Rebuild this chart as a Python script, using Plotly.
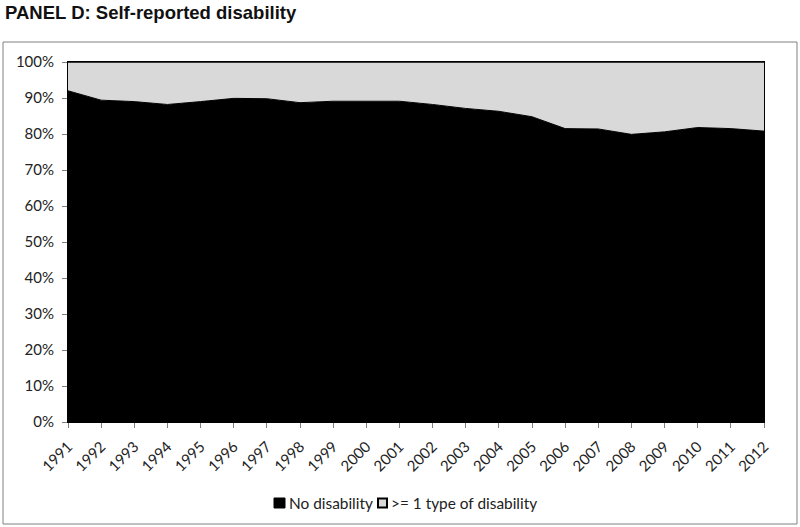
import plotly.graph_objects as go

years = list(range(1991, 2013))
no_disability = [92.0, 89.4, 89.0, 88.2, 89.0, 89.9, 89.8, 88.7, 89.1, 89.1, 89.1,
                 88.2, 87.1, 86.3, 84.8, 81.5, 81.4, 79.9, 80.6, 81.8, 81.5, 80.8]
with_disability = [round(100 - v, 1) for v in no_disability]
y_ticks = [0, 10, 20, 30, 40, 50, 60, 70, 80, 90, 100]
y_tick_labels = [f"{v}%" for v in y_ticks]
series_names = ["No disability", ">= 1 type of disability"]

fig = go.Figure()
fig.add_trace(go.Scatter(x=years, y=no_disability, stackgroup="one", mode="lines",
                         line=dict(color="black", width=1), fillcolor="black",
                         name=series_names[0], showlegend=False, hoverinfo="x+y"))
fig.add_trace(go.Scatter(x=years, y=with_disability, stackgroup="one", mode="lines",
                         line=dict(color="black", width=1.5), fillcolor="#d9d9d9",
                         name=series_names[1], showlegend=False, hoverinfo="x+y"))

W, H = 800, 527
L, R, T, B = 68, 764, 62, 422
pw, ph = R - L, B - T

def px_x(p):
    return (p - L) / pw

def px_y(p):
    return (B - p) / ph

leg_y = 503
shapes = [
    dict(type="rect", xref="paper", yref="paper",
         x0=px_x(3), x1=px_x(797), y0=px_y(524), y1=px_y(42),
         line=dict(color="#808080", width=1), fillcolor="rgba(0,0,0,0)", layer="below"),
    dict(type="rect", xref="paper", yref="paper",
         x0=px_x(274), x1=px_x(285), y0=px_y(leg_y + 5), y1=px_y(leg_y - 5),
         line=dict(color="black", width=1), fillcolor="black"),
    dict(type="rect", xref="paper", yref="paper",
         x0=px_x(378), x1=px_x(387), y0=px_y(leg_y + 4.5), y1=px_y(leg_y - 4.5),
         line=dict(color="black", width=2), fillcolor="#d9d9d9"),
]
annotations = [
    dict(text=series_names[0], xref="paper", yref="paper", x=px_x(287), y=px_y(leg_y),
         xanchor="left", yanchor="middle", showarrow=False,
         font=dict(size=15.4, color="#222")),
    dict(text=series_names[1], xref="paper", yref="paper", x=px_x(389), y=px_y(leg_y),
         xanchor="left", yanchor="middle", showarrow=False,
         font=dict(size=15.4, color="#222")),
]

fig.update_layout(
    width=W, height=H,
    margin=dict(l=L, r=W - R, t=T, b=H - B),
    paper_bgcolor="white", plot_bgcolor="white",
    showlegend=False,
    font=dict(family="Lato, Carlito, Calibri, sans-serif", size=15, color="#222"),
    title=dict(text="<b>PANEL D: Self-reported disability</b>", x=5 / W, xanchor="left",
               y=1 - 13 / H, yanchor="middle", xref="container", yref="container",
               font=dict(family="Liberation Sans, Arial, sans-serif", size=18.5, color="#111")),
    xaxis=dict(range=[1991, 2012], tickvals=years, ticktext=[str(y) for y in years],
               tickangle=-45, showgrid=False, zeroline=False, ticks="outside",
               ticklen=5, tickcolor="#808080", showline=True, linecolor="black",
               linewidth=1, mirror=True, ticklabelstandoff=4),
    yaxis=dict(range=[0, 100], tickvals=y_ticks, ticktext=y_tick_labels,
               showgrid=False, zeroline=False, ticks="outside", ticklen=5,
               tickcolor="#808080", showline=True, linecolor="black", linewidth=1,
               mirror=True, ticklabelstandoff=5),
    shapes=shapes,
    annotations=annotations,
)

fig.write_html("out.html", config={"displayModeBar": False},
               post_script="document.body.style.margin='0';")
